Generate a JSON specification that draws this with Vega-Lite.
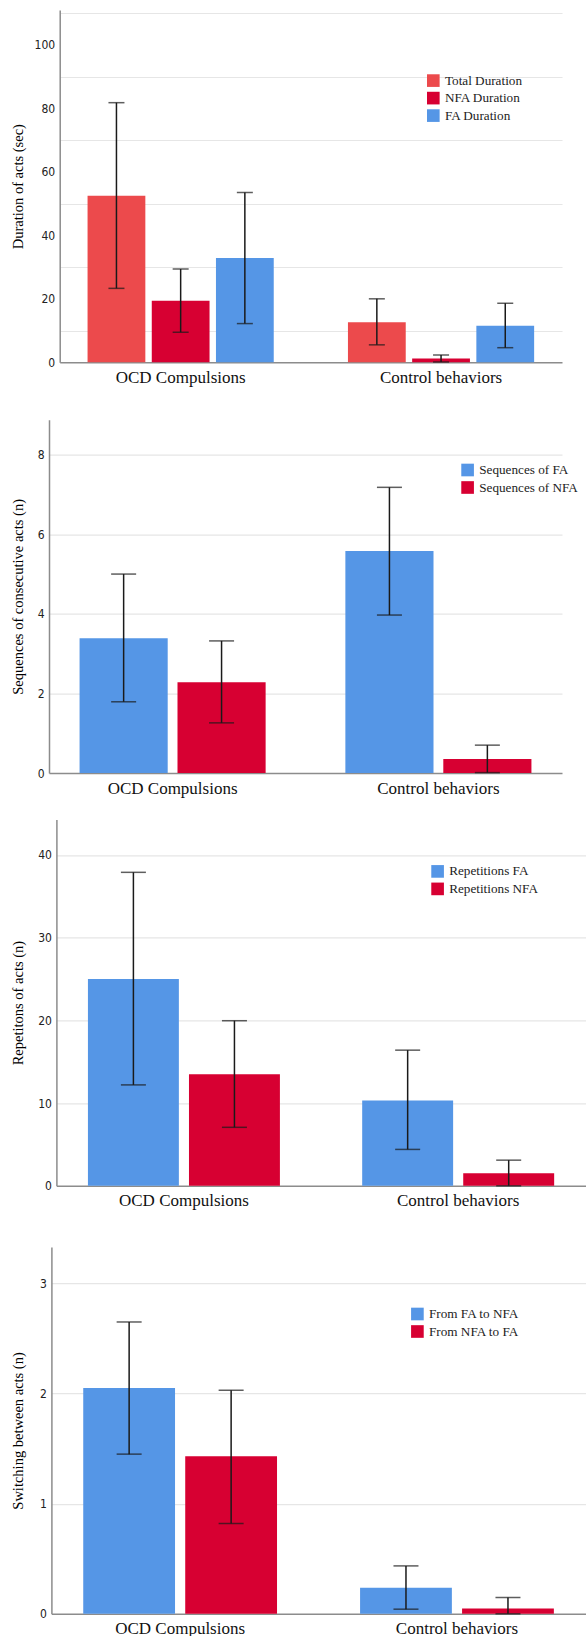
{
  "$schema": "https://vega.github.io/schema/vega-lite/v6.json",
  "background": "white",
  "padding": {"left": 10, "top": 10, "right": 0, "bottom": 0},
  "spacing": 22.7,
  "center": true,
  "datasets": {
    "dur": [
      {"group": "OCD Compulsions", "series": "Total Duration", "mean": 52.5, "lo": 23.3, "hi": 81.8},
      {"group": "OCD Compulsions", "series": "NFA Duration", "mean": 19.4, "lo": 9.5, "hi": 29.4},
      {"group": "OCD Compulsions", "series": "FA Duration", "mean": 32.9, "lo": 12.2, "hi": 53.5},
      {"group": "Control behaviors", "series": "Total Duration", "mean": 12.6, "lo": 5.5, "hi": 20.0},
      {"group": "Control behaviors", "series": "NFA Duration", "mean": 1.2, "lo": 0.1, "hi": 2.3},
      {"group": "Control behaviors", "series": "FA Duration", "mean": 11.5, "lo": 4.6, "hi": 18.6}
    ],
    "seq": [
      {"group": "OCD Compulsions", "series": "Sequences of FA", "mean": 3.39, "lo": 1.79, "hi": 5.0},
      {"group": "OCD Compulsions", "series": "Sequences of NFA", "mean": 2.28, "lo": 1.26, "hi": 3.32},
      {"group": "Control behaviors", "series": "Sequences of FA", "mean": 5.58, "lo": 3.97, "hi": 7.18},
      {"group": "Control behaviors", "series": "Sequences of NFA", "mean": 0.35, "lo": 0.01, "hi": 0.70}
    ],
    "rep": [
      {"group": "OCD Compulsions", "series": "Repetitions FA", "mean": 25.0, "lo": 12.2, "hi": 37.9},
      {"group": "OCD Compulsions", "series": "Repetitions NFA", "mean": 13.5, "lo": 7.07, "hi": 19.96},
      {"group": "Control behaviors", "series": "Repetitions FA", "mean": 10.3, "lo": 4.4, "hi": 16.4},
      {"group": "Control behaviors", "series": "Repetitions NFA", "mean": 1.53, "lo": 0.0, "hi": 3.1}
    ],
    "sw": [
      {"group": "OCD Compulsions", "series": "From FA to NFA", "mean": 2.05, "lo": 1.45, "hi": 2.65},
      {"group": "OCD Compulsions", "series": "From NFA to FA", "mean": 1.43, "lo": 0.82, "hi": 2.03},
      {"group": "Control behaviors", "series": "From FA to NFA", "mean": 0.236, "lo": 0.042, "hi": 0.435},
      {"group": "Control behaviors", "series": "From NFA to FA", "mean": 0.048, "lo": 0.0, "hi": 0.148}
    ]
  },
  "vconcat": [
    {
      "width": 502.3,
      "height": 352.3,
      "data": {"name": "dur"},
      "resolve": {"axis": {"y": "independent"}},
      "layer": [
        {
          "mark": {"type": "bar"},
          "encoding": {
            "x": {"field": "group", "type": "nominal", "title": " ", "sort": ["OCD Compulsions", "Control behaviors"], "scale": {"paddingInner": 0.285, "paddingOuter": 0.107}, "axis": {"labelFont": "Liberation Serif", "labelFontSize": 17, "titleFontSize": 4, "titlePadding": 7.7}},
            "xOffset": {"field": "series", "type": "nominal", "sort": ["Total Duration", "NFA Duration", "FA Duration"], "scale": {"paddingInner": 0.1, "paddingOuter": 0}},
            "y": {"field": "mean", "type": "quantitative", "title": "Duration of acts (sec)", "scale": {"domain": [0, 111], "nice": false}, "axis": {"values": [0, 20, 40, 60, 80, 100], "grid": false, "minExtent": 28, "maxExtent": 28, "titleFont": "Liberation Serif"}},
            "color": {"field": "series", "type": "nominal", "scale": {"domain": ["Total Duration", "NFA Duration", "FA Duration"], "range": ["#EC4A4C", "#D70032", "#5596E6"]}, "legend": {"orient": "none", "legendX": 367, "legendY": 64, "title": null}}
          }
        },
        {
          "mark": {"type": "rule", "color": "#1a1a1a", "strokeWidth": 1.5},
          "encoding": {
            "x": {"field": "group", "type": "nominal", "title": " ", "sort": ["OCD Compulsions", "Control behaviors"]},
            "xOffset": {"field": "series", "type": "nominal", "sort": ["Total Duration", "NFA Duration", "FA Duration"]},
            "y": {"field": "lo", "type": "quantitative", "axis": {"orient": "right", "values": [10, 30, 50, 70, 90, 110], "grid": true, "labels": false, "ticks": false, "domain": false, "title": null, "minExtent": 22.3, "maxExtent": 22.3}},
            "y2": {"field": "hi"}
          }
        },
        {
          "mark": {"type": "tick", "color": "#1a1a1a", "thickness": 1.5, "size": 16},
          "encoding": {
            "x": {"field": "group", "type": "nominal", "title": " ", "sort": ["OCD Compulsions", "Control behaviors"]},
            "xOffset": {"field": "series", "type": "nominal", "sort": ["Total Duration", "NFA Duration", "FA Duration"]},
            "y": {"field": "lo", "type": "quantitative", "axis": null}
          }
        },
        {
          "mark": {"type": "tick", "color": "#1a1a1a", "thickness": 1.5, "size": 16},
          "encoding": {
            "x": {"field": "group", "type": "nominal", "title": " ", "sort": ["OCD Compulsions", "Control behaviors"]},
            "xOffset": {"field": "series", "type": "nominal", "sort": ["Total Duration", "NFA Duration", "FA Duration"]},
            "y": {"field": "hi", "type": "quantitative", "axis": null}
          }
        }
      ]
    },
    {
      "width": 513,
      "height": 353.3,
      "data": {"name": "seq"},
      "resolve": {"axis": {"y": "independent"}},
      "layer": [
        {
          "mark": {"type": "bar"},
          "encoding": {
            "x": {"field": "group", "type": "nominal", "title": null, "sort": ["OCD Compulsions", "Control behaviors"], "scale": {"paddingInner": 0.3, "paddingOuter": 0.115}, "axis": {"labelFont": "Liberation Serif", "labelFontSize": 17}},
            "xOffset": {"field": "series", "type": "nominal", "sort": ["Sequences of FA", "Sequences of NFA"], "scale": {"paddingInner": 0.1, "paddingOuter": 0}},
            "y": {"field": "mean", "type": "quantitative", "title": "Sequences of consecutive acts (n)", "scale": {"domain": [0, 8.88], "nice": false}, "axis": {"values": [0, 2, 4, 6, 8], "grid": false, "minExtent": 17.3, "maxExtent": 17.3, "titleFont": "Liberation Serif"}},
            "color": {"field": "series", "type": "nominal", "scale": {"domain": ["Sequences of FA", "Sequences of NFA"], "range": ["#5596E6", "#D70032"]}, "legend": {"orient": "none", "legendX": 412, "legendY": 43.7, "title": null}}
          }
        },
        {
          "mark": {"type": "rule", "color": "#1a1a1a", "strokeWidth": 1.5},
          "encoding": {
            "x": {"field": "group", "type": "nominal", "title": null, "sort": ["OCD Compulsions", "Control behaviors"]},
            "xOffset": {"field": "series", "type": "nominal", "sort": ["Sequences of FA", "Sequences of NFA"]},
            "y": {"field": "lo", "type": "quantitative", "axis": {"orient": "right", "values": [2, 4, 6, 8], "grid": true, "labels": false, "ticks": false, "domain": false, "title": null, "minExtent": 33, "maxExtent": 33}},
            "y2": {"field": "hi"}
          }
        },
        {
          "mark": {"type": "tick", "color": "#1a1a1a", "thickness": 1.5, "size": 25},
          "encoding": {
            "x": {"field": "group", "type": "nominal", "title": null, "sort": ["OCD Compulsions", "Control behaviors"]},
            "xOffset": {"field": "series", "type": "nominal", "sort": ["Sequences of FA", "Sequences of NFA"]},
            "y": {"field": "lo", "type": "quantitative", "axis": null}
          }
        },
        {
          "mark": {"type": "tick", "color": "#1a1a1a", "thickness": 1.5, "size": 25},
          "encoding": {
            "x": {"field": "group", "type": "nominal", "title": null, "sort": ["OCD Compulsions", "Control behaviors"]},
            "xOffset": {"field": "series", "type": "nominal", "sort": ["Sequences of FA", "Sequences of NFA"]},
            "y": {"field": "hi", "type": "quantitative", "axis": null}
          }
        }
      ]
    },
    {
      "width": 529.3,
      "height": 366.4,
      "data": {"name": "rep"},
      "resolve": {"axis": {"y": "independent"}},
      "layer": [
        {
          "mark": {"type": "bar"},
          "encoding": {
            "x": {"field": "group", "type": "nominal", "title": " ", "sort": ["OCD Compulsions", "Control behaviors"], "scale": {"paddingInner": 0.3, "paddingOuter": 0.115}, "axis": {"labelFont": "Liberation Serif", "labelFontSize": 17, "titleFontSize": 4, "titlePadding": 10.9}},
            "xOffset": {"field": "series", "type": "nominal", "sort": ["Repetitions FA", "Repetitions NFA"], "scale": {"paddingInner": 0.1, "paddingOuter": 0}},
            "y": {"field": "mean", "type": "quantitative", "title": "Repetitons of acts (n)", "scale": {"domain": [0, 44.3], "nice": false}, "axis": {"values": [0, 10, 20, 30, 40], "grid": false, "minExtent": 24.7, "maxExtent": 24.7, "titleFont": "Liberation Serif"}},
            "color": {"field": "series", "type": "nominal", "scale": {"domain": ["Repetitions FA", "Repetitions NFA"], "range": ["#5596E6", "#D70032"]}, "legend": {"orient": "none", "legendX": 374.6, "legendY": 45.4, "title": null}}
          }
        },
        {
          "mark": {"type": "rule", "color": "#1a1a1a", "strokeWidth": 1.5},
          "encoding": {
            "x": {"field": "group", "type": "nominal", "title": " ", "sort": ["OCD Compulsions", "Control behaviors"]},
            "xOffset": {"field": "series", "type": "nominal", "sort": ["Repetitions FA", "Repetitions NFA"]},
            "y": {"field": "lo", "type": "quantitative", "axis": {"orient": "right", "values": [10, 20, 30, 40], "grid": true, "labels": false, "ticks": false, "domain": false, "title": null, "minExtent": 1.9, "maxExtent": 1.9}},
            "y2": {"field": "hi"}
          }
        },
        {
          "mark": {"type": "tick", "color": "#1a1a1a", "thickness": 1.5, "size": 25},
          "encoding": {
            "x": {"field": "group", "type": "nominal", "title": " ", "sort": ["OCD Compulsions", "Control behaviors"]},
            "xOffset": {"field": "series", "type": "nominal", "sort": ["Repetitions FA", "Repetitions NFA"]},
            "y": {"field": "lo", "type": "quantitative", "axis": null}
          }
        },
        {
          "mark": {"type": "tick", "color": "#1a1a1a", "thickness": 1.5, "size": 25},
          "encoding": {
            "x": {"field": "group", "type": "nominal", "title": " ", "sort": ["OCD Compulsions", "Control behaviors"]},
            "xOffset": {"field": "series", "type": "nominal", "sort": ["Repetitions FA", "Repetitions NFA"]},
            "y": {"field": "hi", "type": "quantitative", "axis": null}
          }
        }
      ]
    },
    {
      "width": 534.3,
      "height": 366.7,
      "data": {"name": "sw"},
      "resolve": {"axis": {"y": "independent"}},
      "layer": [
        {
          "mark": {"type": "bar"},
          "encoding": {
            "x": {"field": "group", "type": "nominal", "title": null, "sort": ["OCD Compulsions", "Control behaviors"], "scale": {"paddingInner": 0.3, "paddingOuter": 0.115}, "axis": {"labelFont": "Liberation Serif", "labelFontSize": 17}},
            "xOffset": {"field": "series", "type": "nominal", "sort": ["From FA to NFA", "From NFA to FA"], "scale": {"paddingInner": 0.1, "paddingOuter": 0}},
            "y": {"field": "mean", "type": "quantitative", "title": "Switching between acts (n)", "scale": {"domain": [0, 3.33], "nice": false}, "axis": {"values": [0, 1, 2, 3], "grid": false, "minExtent": 19.7, "maxExtent": 19.7, "titleFont": "Liberation Serif"}},
            "color": {"field": "series", "type": "nominal", "scale": {"domain": ["From FA to NFA", "From NFA to FA"], "range": ["#5596E6", "#D70032"]}, "legend": {"orient": "none", "legendX": 359.4, "legendY": 60.3, "title": null}}
          }
        },
        {
          "mark": {"type": "rule", "color": "#1a1a1a", "strokeWidth": 1.5},
          "encoding": {
            "x": {"field": "group", "type": "nominal", "title": null, "sort": ["OCD Compulsions", "Control behaviors"]},
            "xOffset": {"field": "series", "type": "nominal", "sort": ["From FA to NFA", "From NFA to FA"]},
            "y": {"field": "lo", "type": "quantitative", "axis": {"orient": "right", "values": [1, 2, 3], "grid": true, "labels": false, "ticks": false, "domain": false, "title": null, "minExtent": 6.9, "maxExtent": 6.9}},
            "y2": {"field": "hi"}
          }
        },
        {
          "mark": {"type": "tick", "color": "#1a1a1a", "thickness": 1.5, "size": 25},
          "encoding": {
            "x": {"field": "group", "type": "nominal", "title": null, "sort": ["OCD Compulsions", "Control behaviors"]},
            "xOffset": {"field": "series", "type": "nominal", "sort": ["From FA to NFA", "From NFA to FA"]},
            "y": {"field": "lo", "type": "quantitative", "axis": null}
          }
        },
        {
          "mark": {"type": "tick", "color": "#1a1a1a", "thickness": 1.5, "size": 25},
          "encoding": {
            "x": {"field": "group", "type": "nominal", "title": null, "sort": ["OCD Compulsions", "Control behaviors"]},
            "xOffset": {"field": "series", "type": "nominal", "sort": ["From FA to NFA", "From NFA to FA"]},
            "y": {"field": "hi", "type": "quantitative", "axis": null}
          }
        }
      ]
    }
  ],
  "resolve": {
    "scale": {"color": "independent", "x": "independent", "y": "independent", "xOffset": "independent"},
    "legend": {"color": "independent"}
  },
  "config": {
    "view": {"stroke": null},
    "bar": {"stroke": null},
    "axis": {
      "domainColor": "#8c8c8c",
      "domainWidth": 1.5,
      "gridColor": "#e6e6e6",
      "gridWidth": 1.2,
      "ticks": false,
      "tickSize": 0,
      "labelOverlap": false,
      "labelFlush": false
    },
    "axisX": {
      "labelFont": "Liberation Serif",
      "labelFontSize": 17,
      "labelColor": "#111111",
      "labelPadding": 7,
      "labelAngle": 0,
      "grid": false
    },
    "axisY": {
      "labelFont": "Liberation Sans Narrow, DejaVu Sans Condensed, Liberation Sans, sans-serif",
      "labelFontSize": 12,
      "labelColor": "#222222",
      "labelPadding": 5,
      "titleFont": "Liberation Serif",
      "titleFontSize": 14.5,
      "titleFontWeight": "normal",
      "titleColor": "#000000",
      "titlePadding": 6
    },
    "legend": {
      "symbolType": "square",
      "symbolSize": 160,
      "symbolStrokeWidth": 0,
      "symbolOpacity": 1,
      "labelFont": "Liberation Serif",
      "labelFontSize": 13.2,
      "labelColor": "#222222",
      "labelOffset": 5,
      "rowPadding": 3.5,
      "padding": 0,
      "labelLimit": 300
    }
  }
}
